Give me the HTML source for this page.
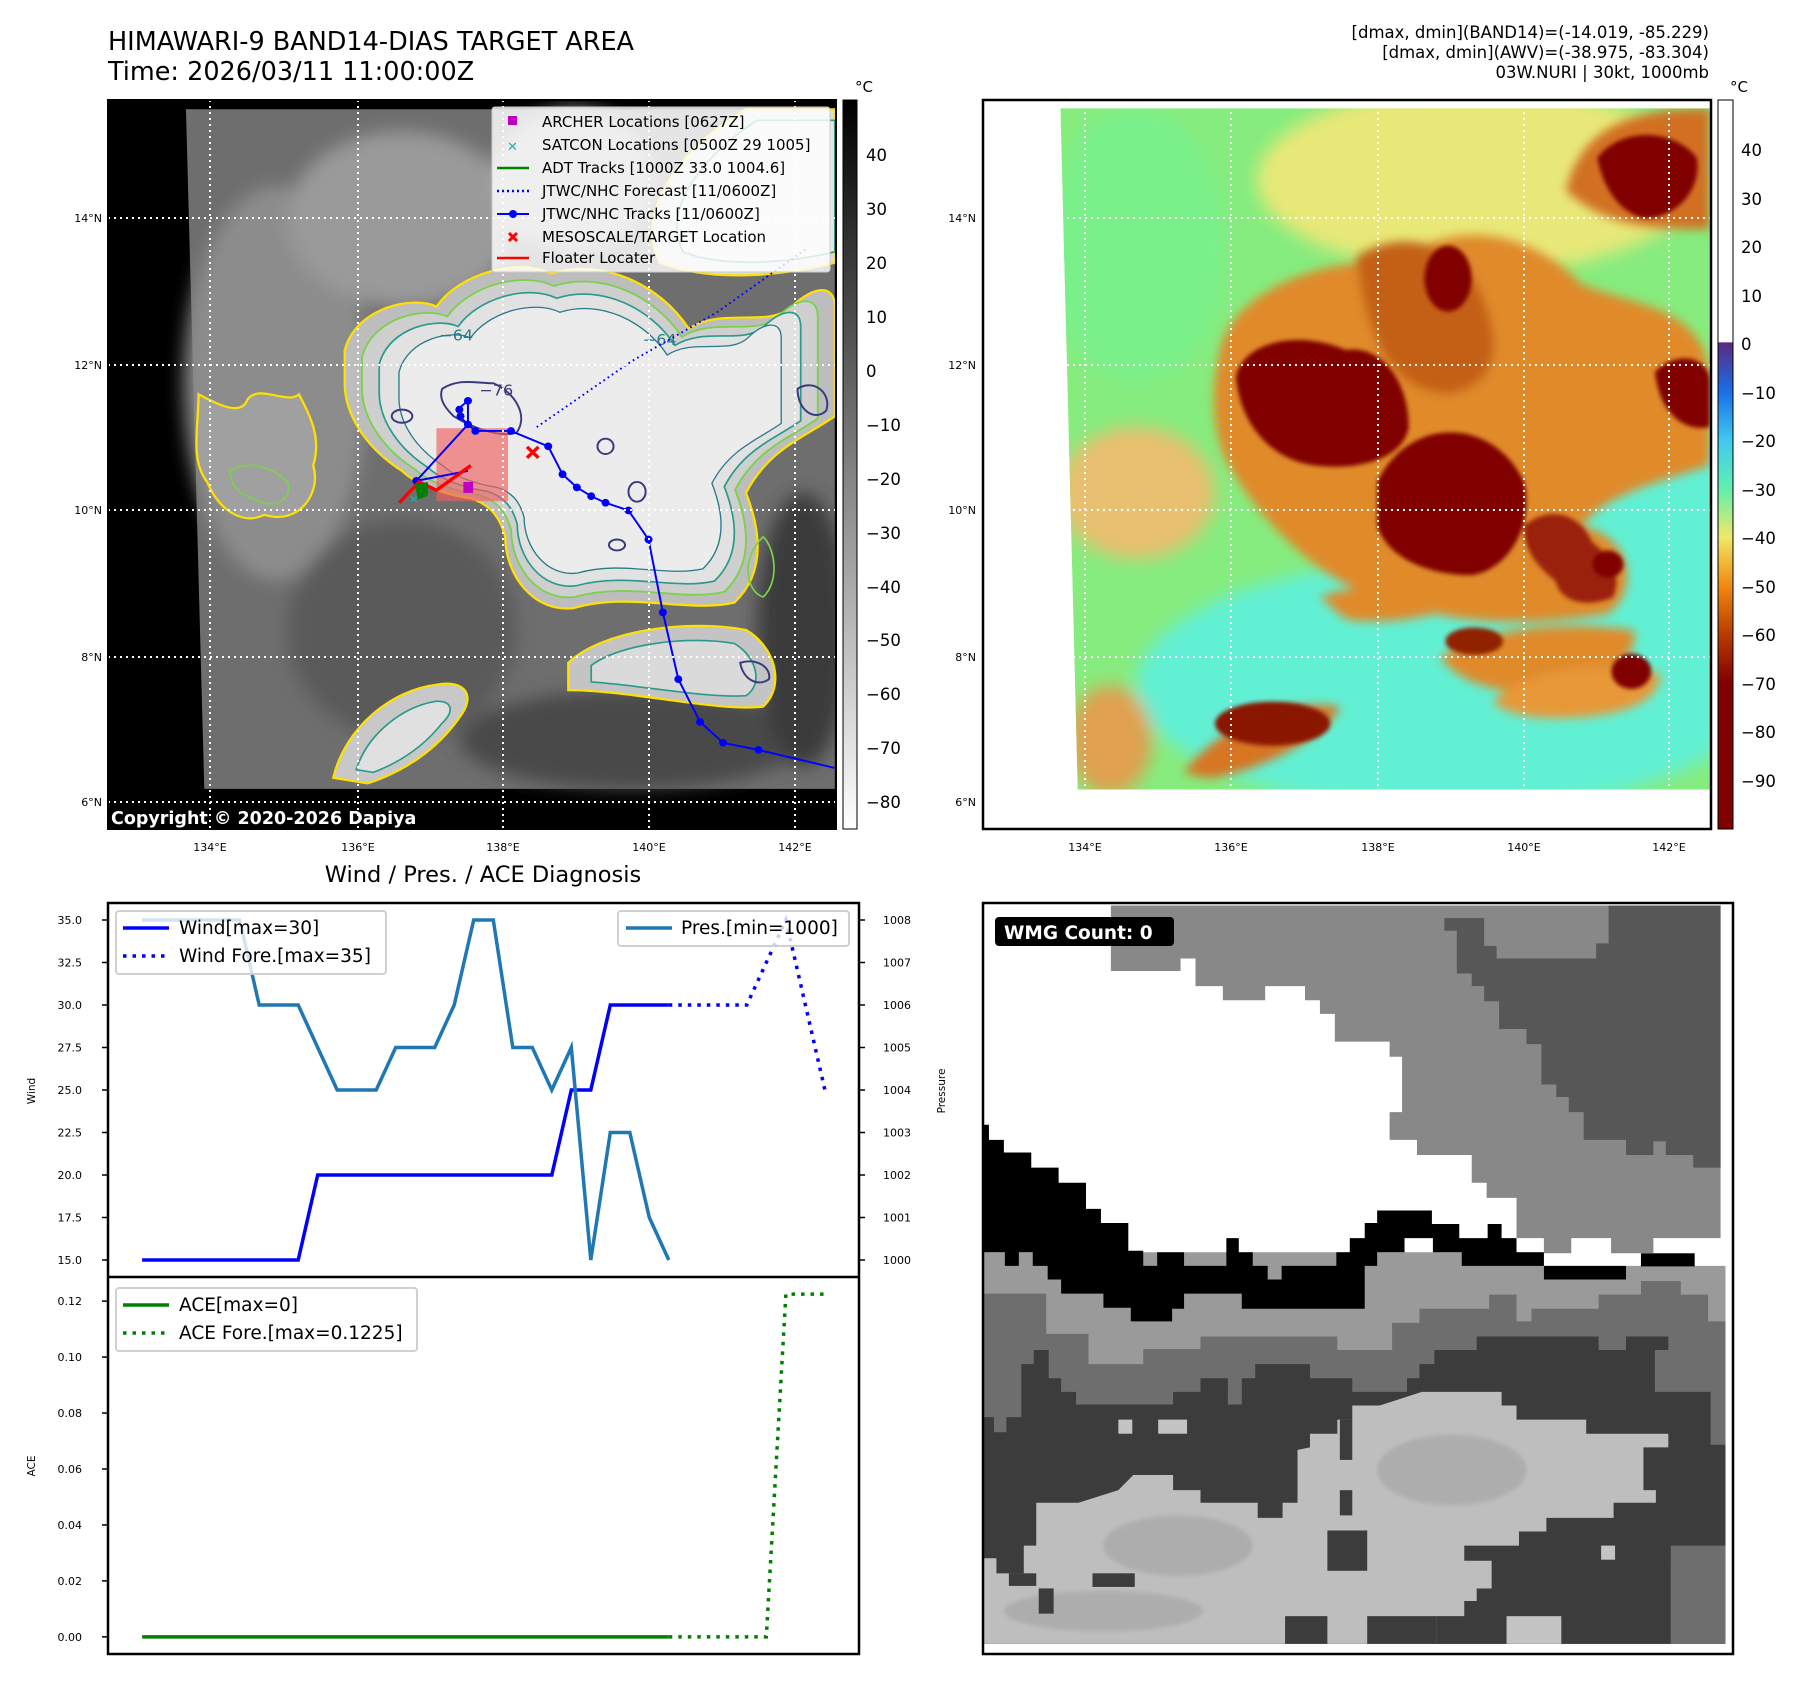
<!DOCTYPE html>
<html><head><meta charset="utf-8"><style>
html,body{margin:0;padding:0;background:#fff;}
svg{display:block;font-family:"DejaVu Sans","Liberation Sans",sans-serif;}
</style></head><body>
<svg id="root" width="1801" height="1690" viewBox="0 0 1801 1690" xmlns="http://www.w3.org/2000/svg">
<defs>
<linearGradient id="greyBar" x1="0" y1="0" x2="0" y2="1"><stop offset="0" stop-color="#000"/><stop offset="1" stop-color="#fff"/></linearGradient>
<linearGradient id="awvBar" x1="0" y1="0" x2="0" y2="1">
<stop offset="0" stop-color="#fff"/><stop offset="0.332" stop-color="#fff"/>
<stop offset="0.333" stop-color="#5a2a80"/><stop offset="0.40" stop-color="#1a6ee8"/>
<stop offset="0.466" stop-color="#40c8f0"/><stop offset="0.533" stop-color="#60f0b0"/>
<stop offset="0.60" stop-color="#f0e868"/><stop offset="0.666" stop-color="#f08a10"/>
<stop offset="0.733" stop-color="#b83c00"/><stop offset="0.80" stop-color="#800000"/><stop offset="1" stop-color="#800000"/>
</linearGradient>
<filter id="blur8"><feGaussianBlur stdDeviation="9"/></filter>
<filter id="blur4"><feGaussianBlur stdDeviation="4"/></filter>
<filter id="blur14"><feGaussianBlur stdDeviation="16"/></filter>
<clipPath id="clipL"><rect x="108" y="100" width="728" height="729"/></clipPath>
<clipPath id="clipR"><rect x="983" y="100" width="728" height="729"/></clipPath>
<path id="cloudA" d="M600,640 C620,560 720,540 760,560 C800,500 900,470 960,500 C1050,470 1150,520 1200,600 C1260,560 1340,600 1380,560 C1420,520 1455,520 1455,560 L1455,760 C1400,800 1340,820 1300,900 C1330,980 1330,1050 1280,1100 C1200,1120 1100,1080 1000,1110 C930,1120 880,1050 880,980 C870,940 850,920 820,910 C760,900 720,880 700,860 C640,820 600,760 600,700 Z"/>
</defs>

<text x="108" y="50" font-size="25.5">HIMAWARI-9 BAND14-DIAS TARGET AREA</text>
<text x="108" y="80" font-size="25.5">Time: 2026/03/11 11:00:00Z</text>
<g font-size="16.5" text-anchor="end">
<text x="1709" y="38">[dmax, dmin](BAND14)=(-14.019, -85.229)</text>
<text x="1709" y="58">[dmax, dmin](AWV)=(-38.975, -83.304)</text>
<text x="1709" y="78">03W.NURI | 30kt, 1000mb</text>
</g>

<g>
<rect x="108" y="100" width="728" height="729" fill="#000"/>
<g clip-path="url(#clipL)">
<g transform="translate(0.8,-0.3) scale(0.5732,0.548)">
<polygon points="323,200 1455,200 1455,1440 355,1440" fill="#6e6e6e"/>
<g filter="url(#blur14)">
<ellipse cx="480" cy="700" rx="160" ry="360" fill="#8c8c8c"/>
<ellipse cx="700" cy="1150" rx="200" ry="200" fill="#5a5a5a"/>
<ellipse cx="1100" cy="1350" rx="300" ry="90" fill="#4a4a4a"/>
<ellipse cx="1400" cy="1150" rx="80" ry="250" fill="#3a3a3a"/>
<ellipse cx="700" cy="400" rx="200" ry="160" fill="#9a9a9a"/>
<ellipse cx="1000" cy="330" rx="140" ry="130" fill="#a8a8a8"/>
</g>
<use href="#cloudA" fill="#bdbdbd" stroke="#ffe000" stroke-width="4"/>
<use href="#cloudA" transform="translate(1030,820) scale(0.93) translate(-1030,-820)" fill="#cfcfcf" stroke="#7ad24a" stroke-width="3.5"/>
<use href="#cloudA" transform="translate(1030,820) scale(0.86) translate(-1030,-820)" fill="#e2e2e2" stroke="#2a9a8a" stroke-width="3.5"/>
<use href="#cloudA" transform="translate(1030,820) scale(0.78) translate(-1030,-820)" fill="#ececec" stroke="#2a7a8a" stroke-width="3"/>
<path d="M1150,480 C1100,380 1200,260 1300,200 L1455,200 L1455,480 C1380,500 1250,520 1150,480Z" fill="#dcdcdc" stroke="#ffe000" stroke-width="4"/>
<path d="M1190,460 C1150,380 1230,280 1320,220 L1455,220 L1455,460 C1380,480 1260,490 1190,460Z" fill="#e8e8e8" stroke="#2a9a8a" stroke-width="3"/>
<path d="M580,1420 C600,1330 680,1260 760,1250 C810,1240 830,1270 800,1310 C760,1370 700,1410 640,1430 Z" fill="#c8c8c8" stroke="#ffe000" stroke-width="4"/>
<path d="M620,1405 C640,1340 700,1290 760,1280 C790,1280 790,1300 770,1320 C740,1360 700,1390 650,1410 Z" fill="#e0e0e0" stroke="#2a9a8a" stroke-width="3"/>
<path d="M990,1210 C1050,1150 1200,1130 1300,1150 C1350,1180 1370,1250 1330,1290 C1250,1300 1100,1260 990,1260Z" fill="#c4c4c4" stroke="#ffe000" stroke-width="4"/>
<path d="M1030,1215 C1080,1175 1200,1160 1280,1175 C1320,1200 1330,1250 1300,1270 C1230,1275 1110,1250 1030,1245Z" fill="#dadada" stroke="#2a9a8a" stroke-width="3"/>
<path d="M345,720 C380,740 420,760 430,730 C450,700 500,740 520,720 C540,760 560,800 545,850 C560,900 520,960 460,940 C420,960 380,930 360,880 C330,840 345,780 345,720Z" fill="#a0a0a0" stroke="#ffe000" stroke-width="4"/>
<path d="M400,860 C430,840 470,850 500,880 C510,920 470,930 440,910 C410,900 400,880 400,860Z" fill="none" stroke="#7ad24a" stroke-width="3"/>
<path d="M1330,980 C1350,1000 1360,1060 1330,1090 C1300,1080 1290,1020 1330,980Z" fill="none" stroke="#7ad24a" stroke-width="3"/>
<g fill="none" stroke="#3a3a80" stroke-width="3.5">
<path d="M770,710 C800,690 830,700 860,700 C900,720 920,760 900,790 C870,800 820,780 790,760 C770,740 765,725 770,710Z"/>
<ellipse cx="700" cy="760" rx="18" ry="12"/>
<ellipse cx="1110" cy="898" rx="15" ry="18"/>
<ellipse cx="1055" cy="815" rx="14" ry="14"/>
<path d="M1390,710 C1420,690 1450,720 1440,750 C1420,770 1390,750 1390,710Z"/>
<path d="M1290,1210 C1320,1200 1345,1220 1340,1240 C1320,1255 1295,1240 1290,1210Z"/>
<ellipse cx="1075" cy="995" rx="14" ry="10"/>
</g>
<g font-size="28" fill="#2a7a8a"><text x="765" y="622">−64</text><text x="1120" y="630">−64</text><text x="835" y="722" fill="#3a3a80">−76</text></g>
<rect x="760" y="782" width="125" height="133" fill="#f06060" fill-opacity="0.65"/>
<polyline points="935,780 1100,660 1250,570 1405,455" fill="none" stroke="#0000ff" stroke-width="3.5" stroke-dasharray="3,6"/>
<g>
<polyline points="815,732 815,775 725,878 815,860" fill="none" stroke="#0000ff" stroke-width="3.5"/>
<polyline points="815,732 800,745 800,760 815,775 828,787 890,787 955,815 980,866 1005,890 1030,906 1055,918 1095,932 1130,985 1155,1118 1182,1240 1220,1318 1260,1356 1322,1369 1455,1402" fill="none" stroke="#0000ff" stroke-width="3.5"/>
<g fill="#0000ff"><circle cx="815" cy="732" r="7"/><circle cx="800" cy="748" r="7"/><circle cx="802" cy="760" r="7"/><circle cx="815" cy="775" r="7"/><circle cx="828" cy="787" r="7"/><circle cx="890" cy="787" r="7"/><circle cx="955" cy="815" r="7"/><circle cx="980" cy="866" r="7"/><circle cx="1005" cy="890" r="7"/><circle cx="1030" cy="906" r="7"/><circle cx="1055" cy="918" r="7"/><circle cx="1095" cy="932" r="7"/><circle cx="1130" cy="985" r="7"/><circle cx="1155" cy="1118" r="7"/><circle cx="1182" cy="1240" r="7"/><circle cx="1220" cy="1318" r="7"/><circle cx="1260" cy="1356" r="7"/><circle cx="1322" cy="1369" r="7"/><circle cx="725" cy="878" r="7"/></g>
</g>
<polyline points="695,918 730,880 760,895 820,850" fill="none" stroke="#ff0000" stroke-width="6"/>
<path d="M722,885 L745,880 L745,905 L728,912Z" fill="#008000"/>
<rect x="807" y="880" width="17" height="20" fill="#c000c0"/>
<text x="712" y="918" font-size="20" fill="#20b0b0">✕</text>
<path d="M918,816 L938,836 M938,816 L918,836" stroke="#ff0000" stroke-width="6"/>
</g>
</g>
<g stroke="#fff" stroke-width="2" stroke-dasharray="2,4">
<line x1="210" y1="100" x2="210" y2="829"/><line x1="358" y1="100" x2="358" y2="829"/><line x1="503" y1="100" x2="503" y2="829"/><line x1="649" y1="100" x2="649" y2="829"/><line x1="795" y1="100" x2="795" y2="829"/>
<line x1="108" y1="218" x2="836" y2="218"/><line x1="108" y1="365" x2="836" y2="365"/><line x1="108" y1="510" x2="836" y2="510"/><line x1="108" y1="657" x2="836" y2="657"/><line x1="108" y1="802" x2="836" y2="802"/>
</g>
<text x="111" y="824" font-size="17.5" font-weight="bold" fill="#fff">Copyright © 2020-2026 Dapiya</text>
<g>
<rect x="492" y="107" width="338" height="165" fill="#fff" fill-opacity="0.82" stroke="#ccc" rx="3"/>
<g font-size="15" fill="#000">
<rect x="508" y="116" width="9" height="9" fill="#c000c0"/><text x="542" y="127">ARCHER Locations [0627Z]</text>
<text x="507" y="151" fill="#20b0b0" font-size="13" font-weight="bold">✕</text><text x="542" y="150">SATCON Locations [0500Z 29 1005]</text>
<line x1="497" y1="168" x2="529" y2="168" stroke="#008000" stroke-width="2.5"/><text x="542" y="173">ADT Tracks [1000Z 33.0 1004.6]</text>
<line x1="497" y1="191" x2="529" y2="191" stroke="#0000ff" stroke-width="2.5" stroke-dasharray="2,3"/><text x="542" y="196">JTWC/NHC Forecast [11/0600Z]</text>
<line x1="497" y1="214" x2="529" y2="214" stroke="#0000ff" stroke-width="2"/><circle cx="513" cy="214" r="4" fill="#0000ff"/><text x="542" y="219">JTWC/NHC Tracks [11/0600Z]</text>
<path d="M509,233 L517,241 M517,233 L509,241" stroke="#ff0000" stroke-width="3"/><text x="542" y="242">MESOSCALE/TARGET Location</text>
<line x1="497" y1="258" x2="529" y2="258" stroke="#ff0000" stroke-width="2.5"/><text x="542" y="263">Floater Locater</text>
</g></g>
<rect x="108" y="100" width="728" height="729" fill="none" stroke="#000" stroke-width="2"/>
</g>
<g font-size="11">
<g text-anchor="end"><text x="102" y="222">14°N</text><text x="102" y="369">12°N</text><text x="102" y="514">10°N</text><text x="102" y="661">8°N</text><text x="102" y="806">6°N</text></g>
<g text-anchor="middle"><text x="210" y="851">134°E</text><text x="358" y="851">136°E</text><text x="503" y="851">138°E</text><text x="649" y="851">140°E</text><text x="795" y="851">142°E</text></g>
</g>
<g>
<rect x="843" y="100" width="14" height="729" fill="url(#greyBar)" stroke="#000" stroke-width="1"/>
<text x="855" y="92" font-size="15">°C</text>
<g font-size="16.5"><text x="866" y="161">40</text><text x="866" y="215">30</text><text x="866" y="269">20</text><text x="866" y="323">10</text><text x="866" y="377">0</text><text x="866" y="431">−10</text><text x="866" y="485">−20</text><text x="866" y="539">−30</text><text x="866" y="593">−40</text><text x="866" y="646">−50</text><text x="866" y="700">−60</text><text x="866" y="754">−70</text><text x="866" y="808">−80</text></g>
</g>

<g>
<rect x="983" y="100" width="728" height="729" fill="#fff"/>
<g clip-path="url(#clipR)">
<clipPath id="imgR"><polygon points="155,200 1395,200 1395,1440 188,1440"/></clipPath>
<g transform="translate(979.3,-1.6) scale(0.5237,0.5494)">
<g clip-path="url(#imgR)">
<rect x="100" y="150" width="1350" height="1350" fill="#86ec7e"/>
<g filter="url(#blur14)">
<ellipse cx="900" cy="1250" rx="600" ry="230" fill="#62f0d4"/>
<ellipse cx="1300" cy="1000" rx="200" ry="200" fill="#62f0d4"/>
<ellipse cx="300" cy="450" rx="170" ry="250" fill="#7af08a"/>
<ellipse cx="950" cy="330" rx="420" ry="170" fill="#e8e878"/>
<ellipse cx="300" cy="900" rx="150" ry="120" fill="#e8c070"/>
<ellipse cx="250" cy="1350" rx="80" ry="100" fill="#e0a050"/>
</g>
<g filter="url(#blur8)">
<path d="M460,640 C480,540 640,470 800,480 C900,400 1050,420 1150,520 C1250,560 1395,560 1395,700 L1395,850 C1300,880 1200,900 1150,960 C1250,980 1260,1080 1200,1120 C1000,1150 900,1130 780,1100 C650,1060 540,960 470,840 C440,770 445,700 460,640Z" fill="#e08a2a"/>
<path d="M1120,350 C1150,230 1250,200 1395,200 L1395,420 C1300,420 1200,420 1120,350Z" fill="#d27020"/>
<path d="M650,1090 C720,1060 820,1080 900,1110 C850,1130 760,1140 700,1130Z" fill="#e08a2a"/>
<path d="M880,1200 C950,1150 1100,1130 1250,1150 C1260,1200 1200,1240 1100,1260 C1000,1270 920,1250 880,1200Z" fill="#e08a2a"/>
<path d="M980,1280 C1050,1220 1200,1200 1300,1230 C1300,1290 1200,1310 1100,1310 C1050,1310 1000,1300 980,1280Z" fill="#e89838"/>
<path d="M390,1410 C450,1330 580,1270 690,1290 C660,1340 560,1400 440,1420Z" fill="#d87420"/>
<path d="M720,470 C800,420 900,440 950,520 C1000,620 1000,700 900,720 C800,720 740,640 720,470Z" fill="#c46018"/>
</g>
<g filter="url(#blur4)" fill="#800000">
<path d="M490,690 C500,630 600,600 700,640 C770,630 820,700 820,780 C810,840 720,860 640,850 C560,840 500,780 490,690Z"/>
<ellipse cx="895" cy="510" rx="45" ry="60"/>
<path d="M760,880 C820,760 980,760 1040,880 C1060,960 1010,1040 940,1050 C860,1050 780,1020 760,960Z"/>
<path d="M1040,960 C1090,920 1150,940 1170,990 C1200,1010 1230,1050 1210,1090 C1160,1110 1110,1100 1100,1060 C1060,1030 1040,1000 1040,960Z" fill="#9a2008"/>
<path d="M1180,290 C1230,230 1330,240 1370,290 C1380,350 1330,400 1270,400 C1220,390 1190,340 1180,290Z"/>
<path d="M1290,680 C1330,640 1395,650 1395,700 L1395,780 C1350,790 1300,760 1290,680Z"/>
<ellipse cx="1245" cy="1225" rx="38" ry="32"/>
<ellipse cx="560" cy="1320" rx="110" ry="40" fill="#8a1400"/>
<ellipse cx="945" cy="1170" rx="55" ry="25" fill="#902000"/>
<ellipse cx="1200" cy="1030" rx="30" ry="25"/>
</g>
</g>
</g>
</g>
<g stroke="#fff" stroke-width="2" stroke-dasharray="2,4">
<line x1="1085" y1="100" x2="1085" y2="829"/><line x1="1231" y1="100" x2="1231" y2="829"/><line x1="1378" y1="100" x2="1378" y2="829"/><line x1="1524" y1="100" x2="1524" y2="829"/><line x1="1669" y1="100" x2="1669" y2="829"/>
<line x1="983" y1="218" x2="1711" y2="218"/><line x1="983" y1="365" x2="1711" y2="365"/><line x1="983" y1="510" x2="1711" y2="510"/><line x1="983" y1="657" x2="1711" y2="657"/><line x1="983" y1="802" x2="1711" y2="802"/>
</g>
<rect x="983" y="100" width="728" height="729" fill="none" stroke="#000" stroke-width="2.5"/>
</g>
<g font-size="11">
<g text-anchor="end"><text x="976" y="222">14°N</text><text x="976" y="369">12°N</text><text x="976" y="514">10°N</text><text x="976" y="661">8°N</text><text x="976" y="806">6°N</text></g>
<g text-anchor="middle"><text x="1085" y="851">134°E</text><text x="1231" y="851">136°E</text><text x="1378" y="851">138°E</text><text x="1524" y="851">140°E</text><text x="1669" y="851">142°E</text></g>
</g>
<g>
<rect x="1718" y="100" width="15" height="729" fill="url(#awvBar)" stroke="#000" stroke-width="1"/>
<text x="1730" y="92" font-size="15">°C</text>
<g font-size="16.5"><text x="1741" y="156">40</text><text x="1741" y="205">30</text><text x="1741" y="253">20</text><text x="1741" y="302">10</text><text x="1741" y="350">0</text><text x="1741" y="399">−10</text><text x="1741" y="447">−20</text><text x="1741" y="496">−30</text><text x="1741" y="544">−40</text><text x="1741" y="593">−50</text><text x="1741" y="641">−60</text><text x="1741" y="690">−70</text><text x="1741" y="738">−80</text><text x="1741" y="787">−90</text></g>
</g>

<g>
<rect x="983" y="903" width="750" height="751" fill="#fff"/>
<g transform="translate(979,890.4) scale(0.4977,0.504)">
<polygon fill="#9a9a9a" points="8,718 1135,718 1135,772 1300,772 1300,745 1500,745 1500,1495 8,1495"/>
<polygon fill="#6e6e6e" points="8,800 135,800 135,880 220,880 220,940 330,940 330,910 445,910 445,885 720,885 720,912 830,912 830,858 885,858 885,830 1025,830 1025,802 1080,802 1080,855 1110,855 1110,830 1245,830 1245,802 1330,802 1330,775 1410,775 1410,802 1465,802 1465,855 1500,855 1500,1495 8,1495"/>
<polygon fill="#3c3c3c" points="8,1045 30,1045 30,1075 55,1075 55,1045 85,1045 85,940 110,940 110,912 140,912 140,968 165,968 165,995 195,995 195,1020 390,1020 390,995 445,995 445,968 500,968 500,1020 528,1020 528,968 555,968 555,940 665,940 665,968 750,968 750,995 860,995 860,968 885,968 885,940 915,940 915,912 1000,912 1000,885 1245,885 1245,912 1300,912 1300,885 1385,885 1385,912 1358,912 1358,995 1470,995 1470,1100 1500,1100 1500,1300 1390,1300 1390,1495 8,1495"/>
<polygon fill="#6e6e6e" points="1390,1330 1500,1300 1500,1495 1390,1495"/>
<polygon fill="#bebebe" points="8,1325 35,1325 35,1355 90,1355 90,1300 115,1300 115,1215 200,1215 280,1190 310,1160 390,1160 390,1190 445,1190 445,1215 560,1215 560,1245 610,1245 610,1215 640,1215 640,1110 665,1105 665,1078 720,1078 720,1050 750,1050 750,1022 805,1022 890,995 1050,995 1050,1022 1080,1022 1080,1050 1220,1050 1220,1078 1385,1078 1385,1105 1335,1105 1335,1190 1360,1190 1360,1215 1275,1215 1275,1245 1140,1245 1140,1272 1085,1272 1085,1300 975,1300 975,1330 1030,1330 1030,1385 1000,1385 1000,1410 975,1410 975,1440 920,1440 920,1495 8,1495"/>
<g fill="#adadad" filter="url(#blur4)"><ellipse cx="950" cy="1150" rx="150" ry="70"/><ellipse cx="400" cy="1300" rx="150" ry="60"/><ellipse cx="250" cy="1430" rx="200" ry="40"/></g>
<g fill="#3c3c3c"><rect x="228" y="1355" width="85" height="27"/><rect x="120" y="1385" width="30" height="50"/><rect x="700" y="1270" width="80" height="80"/><rect x="725" y="1190" width="25" height="50"/><rect x="60" y="1355" width="55" height="25"/><rect x="615" y="1440" width="85" height="55"/><rect x="780" y="1440" width="140" height="55"/><rect x="725" y="1050" width="25" height="80"/></g>
<g fill="#c4c4c4"><rect x="280" y="1050" width="28" height="28"/><rect x="360" y="1050" width="58" height="28"/><rect x="1250" y="1300" width="28" height="28"/><rect x="1060" y="1440" width="110" height="55"/></g>
<polygon fill="#000" points="8,465 20,465 20,495 50,495 50,520 105,520 105,550 160,550 160,580 215,580 215,632 245,632 245,660 300,660 300,715 330,715 330,745 358,745 358,718 412,718 412,745 497,745 497,690 522,690 522,718 550,718 550,745 580,745 580,772 608,772 608,745 718,745 718,718 745,718 745,690 775,690 775,660 800,660 800,635 910,635 910,662 965,662 965,690 1022,690 1022,662 1050,662 1050,690 1080,690 1080,718 1135,718 1135,745 1300,745 1300,772 1135,772 1135,745 970,745 970,718 912,718 912,690 855,690 855,718 800,718 800,745 775,745 775,830 528,830 528,800 412,800 412,830 388,830 388,855 305,855 305,828 250,828 250,800 165,800 165,772 138,772 138,745 108,745 108,718 80,718 80,745 52,745 52,718 8,718"/>
<rect x="1330" y="720" width="108" height="26" fill="#000"/>
<polygon fill="#888888" points="265,30 1490,30 1490,690 1355,690 1355,720 1270,720 1270,690 1190,690 1190,720 1135,720 1135,690 1080,690 1080,610 1020,610 1020,580 990,580 990,525 880,525 880,495 825,495 825,440 850,440 850,330 825,330 825,300 715,300 715,245 685,245 685,218 655,218 655,190 575,190 575,218 490,218 490,190 435,190 435,135 405,135 405,160 265,160"/>
<polygon fill="#575757" points="935,55 1015,55 1015,110 1040,110 1040,135 1240,135 1240,105 1265,105 1265,30 1490,30 1490,550 1435,550 1435,525 1380,525 1380,498 1355,498 1355,525 1300,525 1300,495 1215,495 1215,440 1185,440 1185,410 1160,410 1160,385 1130,385 1130,305 1100,305 1100,275 1045,275 1045,220 1015,220 1015,190 990,190 990,165 960,165 960,80 935,80"/>
<rect x="1500" y="30" width="20" height="1470" fill="#fff"/>
</g>
<rect x="995" y="917" width="179" height="29" rx="4" fill="#000"/>
<text x="1004" y="939" font-size="18.5" font-weight="bold" fill="#fff">WMG Count: 0</text>
<rect x="983" y="903" width="750" height="751" fill="none" stroke="#000" stroke-width="2.5"/>
</g>

<text x="483" y="882" font-size="22.5" text-anchor="middle">Wind / Pres. / ACE Diagnosis</text>
<g id="chart"></g>
</svg>
<script>
const windObs = [15,15,15,15,15,15,15,15,15,20,20,20,20,20,20,20,20,20,20,20,20,20,25,25,30,30,30,30];
const presObs = [1008,1008,1008,1008,1008,1008,1006,1006,1006,1005,1004,1004,1004,1005,1005,1005,1006,1008,1008,1005,1005,1004,1005,1000,1003,1003,1001,1000];
const windFcst = [30,30,30,30,30,32.5,35,30,25];
const aceObs = [0,0,0,0,0,0,0,0,0,0,0,0,0,0,0,0,0,0,0,0,0,0,0,0,0,0,0,0];
const aceFcst = [0,0,0,0,0,0,0.1225,0.1225,0.1225];
const windTicks = [15,17.5,20,22.5,25,27.5,30,32.5,35];
const presTicks = [1000,1001,1002,1003,1004,1005,1006,1007,1008];
const aceTicks = [0,0.02,0.04,0.06,0.08,0.10,0.12];

const NS = 'http://www.w3.org/2000/svg';
const g = document.getElementById('chart');
const L = 108, R = 859, T1 = 903, B1 = 1277, T2 = 1277, B2 = 1654;
const nTotal = windObs.length + windFcst.length - 1;
const xMin = -0.05 * (nTotal - 1), xMax = (nTotal - 1) * 1.05;
function xS(i) { return L + (i - xMin) / (xMax - xMin) * (R - L); }
const wLo = 14, wHi = 36;
function yW(v) { return T1 + (wHi - v) / (wHi - wLo) * (B1 - T1); }
const pLo = 999.6, pHi = 1008.4;
function yP(v) { return T1 + (pHi - v) / (pHi - pLo) * (B1 - T1); }
const aMax = 0.1225, aLo = -0.05 * aMax, aHi = aMax * 1.05;
function yA(v) { return T2 + (aHi - v) / (aHi - aLo) * (B2 - T2); }

function mk(tag, attrs) { const e = document.createElementNS(NS, tag); for (const k in attrs) e.setAttribute(k, attrs[k]); g.appendChild(e); return e; }
function pts(arr, off, yf) { return arr.map((v, i) => xS(i + off).toFixed(1) + ',' + yf(v).toFixed(1)).join(' '); }

let e;
e = mk('rect', {x: L, y: T1, width: R - L, height: B2 - T1, fill: '#fff'});



const off = windObs.length - 1;
e = mk('polyline', {points: pts(windObs, 0, yW), fill: 'none', stroke: '#0000ff', 'stroke-width': 3.5});


e = mk('polyline', {points: pts(windFcst, off, yW), fill: 'none', stroke: '#0000ff', 'stroke-width': 3.5, 'stroke-dasharray': '3.5,6'});


e = mk('polyline', {points: pts(presObs, 0, yP), fill: 'none', stroke: '#1f77b4', 'stroke-width': 3.5});


e = mk('polyline', {points: pts(aceObs, 0, yA), fill: 'none', stroke: '#008000', 'stroke-width': 3.5});


e = mk('polyline', {points: pts(aceFcst, off, yA), fill: 'none', stroke: '#008000', 'stroke-width': 3.5, 'stroke-dasharray': '3.5,6'});



windTicks.forEach(v => {
  const y = yW(v);
  e = mk('line', {x1: L - 6, x2: L, y1: y, y2: y, stroke: '#000', 'stroke-width': 1.5});
  
  
  e = mk('text', {x: 82, y: y + 4, 'font-size': 11, 'text-anchor': 'end'});
  e.textContent = v.toFixed(1);
  
  
});
presTicks.forEach(v => {
  const y = yP(v);
  e = mk('line', {x1: R, x2: R + 6, y1: y, y2: y, stroke: '#000', 'stroke-width': 1.5});
  
  
  e = mk('text', {x: 883, y: y + 4, 'font-size': 11});
  e.textContent = String(v);
  
  
});
aceTicks.forEach(v => {
  const y = yA(v);
  e = mk('line', {x1: L - 6, x2: L, y1: y, y2: y, stroke: '#000', 'stroke-width': 1.5});
  
  
  e = mk('text', {x: 82, y: y + 4, 'font-size': 11, 'text-anchor': 'end'});
  e.textContent = v.toFixed(2);
  
  
});
e = mk('text', {x: 35, y: 1091, 'font-size': 10.5, 'text-anchor': 'middle', transform: 'rotate(-90 35 1091)'});
e.textContent = 'Wind';


e = mk('text', {x: 945, y: 1091, 'font-size': 10.5, 'text-anchor': 'middle', transform: 'rotate(-90 945 1091)'});
e.textContent = 'Pressure';


e = mk('text', {x: 35, y: 1466, 'font-size': 10.5, 'text-anchor': 'middle', transform: 'rotate(-90 35 1466)'});
e.textContent = 'ACE';



function legendBox(x, y, w, h, name) {
  e = mk('rect', {x: x, y: y, width: w, height: h, rx: 3, fill: '#fff', 'fill-opacity': 0.8, stroke: '#d0d0d0', 'stroke-width': 2});
  
  
}
function legendEntry(y, x1, x2, tx, color, dashed, label, name) {
  const a = {x1: x1, x2: x2, y1: y, y2: y, stroke: color, 'stroke-width': 3.5};
  if (dashed) a['stroke-dasharray'] = '3.5,6';
  e = mk('line', a);
  
  
  e = mk('text', {x: tx, y: y + 6, 'font-size': 18.5});
  e.textContent = label;
  
  
}
legendBox(116, 911, 270, 63, 'wind-legend');
legendEntry(928, 123, 169, 179, '#0000ff', false, 'Wind[max=30]', 'legend-wind');
legendEntry(956, 123, 169, 179, '#0000ff', true, 'Wind Fore.[max=35]', 'legend-wind-forecast');
legendBox(618, 911, 231, 35, 'pressure-legend');
legendEntry(928, 626, 672, 681, '#1f77b4', false, 'Pres.[min=1000]', 'legend-pressure');
legendBox(116, 1288, 301, 63, 'ace-legend');
legendEntry(1305, 123, 169, 179, '#008000', false, 'ACE[max=0]', 'legend-ace');
legendEntry(1333, 123, 169, 179, '#008000', true, 'ACE Fore.[max=0.1225]', 'legend-ace-forecast');

e = mk('rect', {x: L, y: T1, width: R - L, height: B2 - T1, fill: 'none', stroke: '#000', 'stroke-width': 2.5});


e = mk('line', {x1: L, x2: R, y1: B1, y2: B1, stroke: '#000', 'stroke-width': 2.5});


</script>
</body></html>
